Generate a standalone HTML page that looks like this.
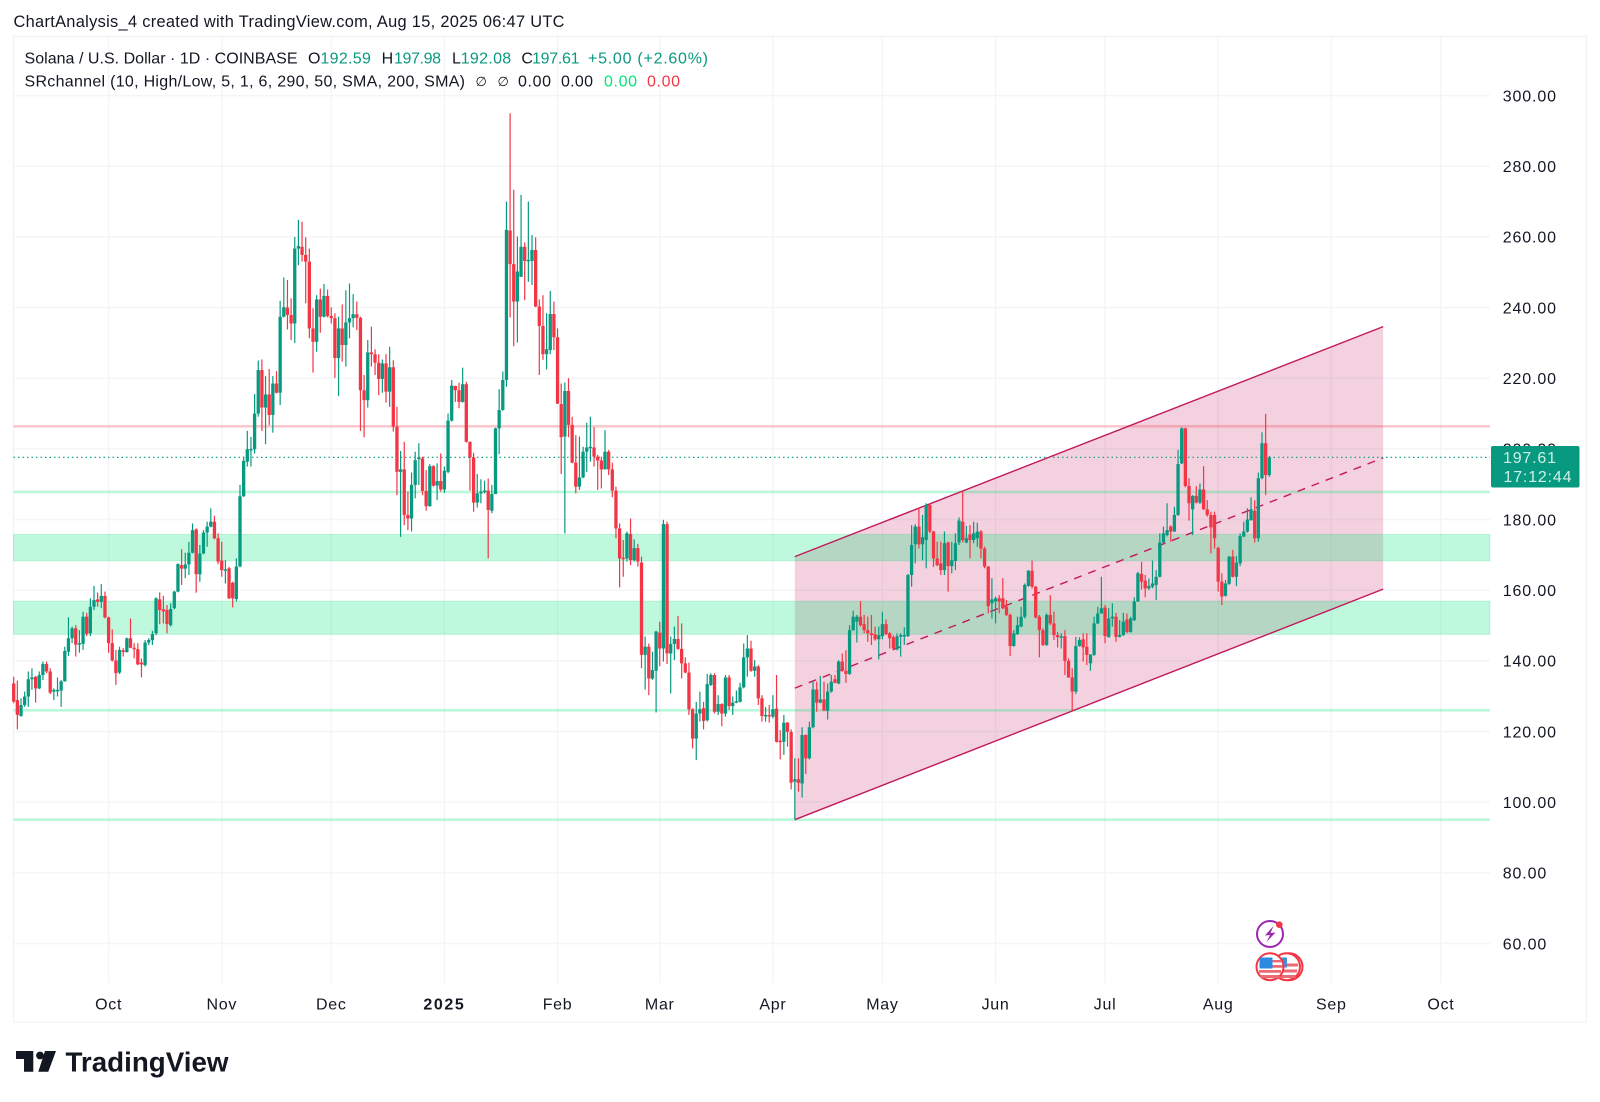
<!DOCTYPE html>
<html lang="en">
<head>
<meta charset="utf-8">
<title>SOL/USD Chart</title>
<style>
html,body{margin:0;padding:0;background:#fff;}
svg{display:block;font-family:"Liberation Sans",sans-serif;}
</style>
</head>
<body>
<svg id="chart" xmlns="http://www.w3.org/2000/svg" width="1600" height="1102" viewBox="0 0 1600 1102">
  <rect x="0" y="0" width="1600" height="1102" fill="#ffffff"/>
  <text x="13.5" y="27" font-size="16.4" fill="#131722" textLength="551" lengthAdjust="spacing">ChartAnalysis_4 created with TradingView.com, Aug 15, 2025 06:47 UTC</text>
  <rect x="13.5" y="36.5" width="1573" height="985.5" fill="none" stroke="#f3f4f7" stroke-width="1.5"/>
  <g id="grid"></g>
  <g id="channelFill"></g>
  <g id="levels"></g>
  <g id="channelLines"></g>
  <g id="lastLine"></g>
  <g id="candles"></g>
  <g id="yAxis"></g>
  <g id="xAxis"></g>

  <g>
    <rect x="1491" y="446" width="88.5" height="41.5" rx="2" fill="#089981"/>
    <text x="1503" y="463" font-size="16" fill="#cfefe8" textLength="53" lengthAdjust="spacing">197.61</text>
    <text x="1503.5" y="481.8" font-size="16" fill="#cfefe8" textLength="68" lengthAdjust="spacing">17:12:44</text>
  </g>

  <g font-size="16">
    <text x="24.5" y="63.5" fill="#131722" textLength="273" lengthAdjust="spacing">Solana / U.S. Dollar · 1D · COINBASE</text>
    <text x="308" y="63.5" fill="#131722">O</text>
    <text x="320.4" y="63.5" fill="#089981" textLength="50.5" lengthAdjust="spacing">192.59</text>
    <text x="381.6" y="63.5" fill="#131722">H</text>
    <text x="394" y="63.5" fill="#089981" textLength="47" lengthAdjust="spacing">197.98</text>
    <text x="452" y="63.5" fill="#131722">L</text>
    <text x="460.7" y="63.5" fill="#089981" textLength="50.5" lengthAdjust="spacing">192.08</text>
    <text x="521.4" y="63.5" fill="#131722">C</text>
    <text x="532" y="63.5" fill="#089981" textLength="47.5" lengthAdjust="spacing">197.61</text>
    <text x="588" y="63.5" fill="#089981" textLength="120" lengthAdjust="spacing">+5.00 (+2.60%)</text>
    <text x="24.5" y="86.5" fill="#131722" textLength="440.5" lengthAdjust="spacing">SRchannel (10, High/Low, 5, 1, 6, 290, 50, SMA, 200, SMA)</text>
    <text x="475.5" y="86" font-size="13" fill="#131722">∅</text>
    <text x="497.5" y="86" font-size="13" fill="#131722">∅</text>
    <text x="518" y="86.5" fill="#131722" textLength="33" lengthAdjust="spacing">0.00</text>
    <text x="561" y="86.5" fill="#131722" textLength="32" lengthAdjust="spacing">0.00</text>
    <text x="604" y="86.5" fill="#00e676" textLength="33" lengthAdjust="spacing">0.00</text>
    <text x="647" y="86.5" fill="#f23645" textLength="33" lengthAdjust="spacing">0.00</text>
  </g>

  <g>
    <circle cx="1270" cy="934" r="13" fill="#fff" stroke="#9c27b0" stroke-width="2"/>
    <path d="M1273.5 926 L1265 935.5 L1270 935 L1266.5 942 L1275.5 932.5 L1270.5 933 Z" fill="#9c27b0"/>
    <circle cx="1279.3" cy="924.7" r="3.3" fill="#f23645"/>
  </g>
  <g>
    <g>
      <circle cx="1289" cy="966.7" r="13.5" fill="#fff" stroke="#f23645" stroke-width="2"/>
      <circle cx="1286.5" cy="966.7" r="13.5" fill="#fff" stroke="#f23645" stroke-width="2"/>
      <path d="M1276 969.5 h21 v3 h-21z M1277.5 975 h18 v3 h-18z M1283 963.5 h15 v3 h-15z" fill="#ee6a72"/>
      <rect x="1279" y="957.5" width="8" height="10" fill="#3f8fdc"/>
    </g>
    <g>
      <circle cx="1270" cy="966.7" r="13.5" fill="#fff" stroke="#f23645" stroke-width="2"/>
      <path d="M1272 960 h9.5 v2.4 h-9.5z M1272 965 h10.5 v2.8 h-10.5z M1259 970 h22 v2.8 h-22z M1260.5 975 h19 v3.2 h-19z" fill="#ee6a72"/>
      <rect x="1259.5" y="957.5" width="13" height="11" fill="#2e8ae0"/>
    </g>
  </g>

  <g>
    <path d="M16 1051 H33.3 V1071.7 H24 V1059 H16 Z" fill="#131722"/>
    <circle cx="40" cy="1055.5" r="3.9" fill="#131722"/>
    <path d="M45 1051 H56 L48.3 1071.7 H38.3 Z" fill="#131722"/>
    <text x="65.5" y="1071.7" font-size="28" font-weight="bold" fill="#131722" textLength="163" lengthAdjust="spacingAndGlyphs">TradingView</text>
  </g>
</svg>

<script>
// ---------- chart data ----------
const opens = [
133.6,128.9,124.4,127.5,129.9,134.8,135.5,132.2,136,139.1,
137,131.3,131.4,131.6,134.2,142.6,146.4,149.2,144.7,144.8,
152.5,147.8,155.3,157.4,156.7,158.4,152.3,145,140.1,136.7,
143,142.5,146.4,143.7,143.3,139.5,138.8,145.2,145.9,147.8,
157.4,154.6,154.4,150.1,154.9,159.6,167.1,166.1,167.3,170.6,
177.2,164.5,170.4,176.3,178,179.4,174.7,168.4,165.5,166.2,
162.1,157.5,166.7,186.6,196.4,199.8,199.9,210,222.3,211.7,
215.4,209.6,218.5,215.9,237.4,240,237.9,235.5,256.7,257.2,
254.9,253,234.1,230.3,242.3,237.4,243.3,237.6,237,225.7,
234.1,229.4,235.8,237,238.1,237.1,216.6,213.8,227.3,226.8,
224.4,219.8,224.2,216.2,223.1,206.3,193.5,194.2,181.3,180.3,
189.8,197.1,197.3,188.1,183.8,195.1,189.6,190.9,188.5,193.5,
208,217.8,216.6,213.3,218.3,202,197.6,184.8,187.4,187.9,
188.2,182.5,187.2,205.8,211,219.5,261.8,252.3,241.7,248.7,
257.2,253.2,253.2,256.3,240.3,234.8,226.8,228,238.2,231.6,
212.7,203.5,216.4,206.8,196.1,189.3,191.9,199.2,200.3,200.4,
197.8,196.7,194.2,199.2,194.2,188.2,177.5,169.2,169,175.9,
168.5,171.9,167.8,141.7,144,135,137.2,148,143.5,178.7,
142.1,144.8,146.2,143.4,139.3,136.7,126.3,118,125.1,126.6,
123.2,133.2,136,125.6,127.8,125.1,135.3,127.2,128.2,128.4,
132.5,141,143.5,137.2,138.4,129.4,124.4,124.7,124.2,126.5,
117.4,117.1,122.5,119.9,105.8,106.5,105.3,119,112.4,121.2,
131.9,128.2,129.1,125.9,131.3,134.8,133.6,139.8,137.2,136.3,
148.7,151.1,152.5,150.4,148.7,147.8,147.5,146.1,147,150.4,
147.8,146.7,143.2,147,147,147,164.3,173,178,173,
174.2,184.1,176.6,169,167.6,165.7,173.5,166.8,168.3,173.5,
179.4,173.5,175.8,174.2,174.7,176.6,171.8,166.7,156.3,156.8,
157.7,157.7,155.3,153,144.2,147.6,149.7,152.5,161.2,165.5,
161,152.5,148.7,144.5,153,150.6,147.3,146.7,147,140,
135.3,131.3,144.2,146.1,144,139.3,141.7,150.6,153.4,155.1,
146.7,152,152.5,146.8,147.3,151.7,148.2,151.5,156.8,164.6,
162.7,160.5,161,161.5,163.8,173.5,175.6,178,176.6,181.3,
195.9,205.8,189.5,182.9,186.7,184.8,188.5,182.9,181.3,181.3,
172,162.4,158.4,161.8,169.5,163.8,167.6,175.2,176.6,179.8,
182.5,174.7,191.7,201.6,192.59];
const highs = [
135.5,134.4,129.4,131.3,137,137.9,135.7,137,139.8,139.8,
137.9,132.2,135.3,134.6,144,152.3,149.7,150.1,148.7,153.9,
153.6,157.7,161.2,159.3,161.7,159.6,152.5,148.9,143.1,144,
143.6,146.6,152,145,145,140.7,145.9,146.4,148.5,158,
159.4,158.4,155.8,156.3,159.8,167.6,171.6,170.6,173.7,178.9,
177.5,172.8,177,179.4,183.2,181.1,176.1,173.7,168.5,166.6,
162.4,169,189.8,197.8,205.1,203.4,215.5,225,225.3,220.6,
222.6,220.6,222,241.9,248.5,247.8,242.6,260,264.8,264.3,
259.9,256.7,239.8,243.5,245.4,246.7,245.1,240.1,238.4,237.4,
240.9,244.9,246.8,243.8,241.7,237.4,220.9,230.8,234.6,228.2,
226.8,225.3,226.8,228.9,225.1,211.9,199.4,202,187.9,193.3,
199.2,201.6,197.8,194,195.7,195.4,195.9,198.7,195,210,
219.5,217.9,218.7,223,219,202.1,198.9,192.9,191.4,191,
191.6,189.8,206,216.9,221.9,270,295,273.3,260.1,271.9,
258.4,270,260.5,259.9,242.3,243.5,238.4,244.7,241.7,234.1,
218.5,218.8,220,209.1,203.9,203.5,200.6,207.4,209.1,206.1,
198.3,197.8,205.3,199.7,196.1,189.3,178.9,174.2,176.6,180.3,
174.4,173.1,169.5,146.9,144.9,142.6,148.5,151.1,179.9,179.4,
146.9,149.7,152.7,150.6,141,139.5,126.6,128.4,131.3,128.4,
136.3,136.5,136.5,130.3,128,136,136,129.9,131.6,133.8,
144.9,147.3,145.7,140.2,138.8,130.3,126.9,127.5,130.3,136,
120.4,124.7,122.7,120.6,112.4,112.4,121.2,119.2,122.8,134.1,
134.1,135.7,134.1,133.6,136,136,140.2,142.1,143,150.1,
154.2,153,156.9,153,152.5,153,149.7,149.7,153.9,151.7,
148.2,147.3,147.8,147.8,149.5,164.6,178.4,178.7,183.2,181.3,
184.6,184.6,176.8,173.7,173.7,176.6,173.7,173.7,176.1,180.6,
187.9,178.2,178.4,179.4,179.1,177,172.3,166.8,163.4,158.2,
158.6,163.4,157.2,153.4,148.7,152.5,155.3,161.9,165.7,168.4,
161.2,153,149.2,153.4,158.6,153.9,148.2,147.8,148.7,140.7,
137.9,146.8,146.7,147.8,147.8,141.9,152.5,155.3,163.8,155.8,
154.9,156.3,153.6,151.5,153.6,153.4,152.5,158,165.2,168,
164.3,163.3,168.4,165.7,176.1,178,184.6,178.4,183.6,199.7,
206.1,206,191.7,186.9,189.5,190.2,195.1,185.5,182.2,182.2,
172.3,164.8,162.9,169.7,171.4,169.7,176.1,179.4,183.2,186.3,
185.5,193.3,204.7,209.9,197.98];
const lows = [
128,120.6,124.2,127,127,131.8,128.2,132,134.6,136.5,
130.6,128.9,129.9,127,134.1,141.4,145,141.2,142.3,143.1,
147,147,154.4,155.3,154.9,152,142.3,139.8,133.2,136.3,
141.2,142.3,143.6,140.7,138.8,135.3,138.4,144.5,144.5,147.3,
150.4,150.6,147.8,149.7,154.6,159.4,161.5,163.4,164.3,170.4,
159.3,162.4,170.2,172.3,177.8,174.4,167.4,163.8,161.9,157.5,
155.1,156.8,166.5,186.4,195,195,198.7,209.1,205.1,201.3,
206.7,204.6,215.7,212.4,237.2,233.8,230.8,230,252,253,
241.2,231.3,221.6,227.5,232.9,237.2,237.2,235.5,220.1,215,
224.7,223.3,231.3,234.4,233.6,205.1,203.3,211.7,223.3,220.9,
215.2,215.9,213.1,211.9,204.9,186.9,175.1,178.4,177,176.6,
186,189.8,186.9,182.5,183.6,189.3,185.5,187.9,187.6,193.1,
207.7,213.3,211.5,213.1,201.8,188.2,182.2,183.4,184.6,187.4,
169,181.8,187.2,198.5,210.8,217.6,237.2,229.1,230.1,248.7,
242.1,247.3,246.4,240.1,220.9,225.2,222.5,226.8,228,212.7,
192.9,176.1,203.3,195.9,187.4,188.4,191.7,193.5,196.4,195,
188.4,188.8,194.2,192.6,186.3,174.7,160.8,163.8,168.1,167.1,
168.1,166.7,137.9,131.9,130.3,134.6,125.4,138.5,139.8,139.1,
130.8,140.2,143.1,135,136.5,124.7,115.2,111.9,122.8,120.6,
122.8,132.9,125.1,124.7,121.5,124.2,126.1,124.7,128,128.2,
132.2,135.5,136.9,135.5,127.5,122.8,122.8,122.5,123.7,116.9,
112.1,113.4,115.7,103.6,95.1,103,101.3,108,112.1,120.9,
125.6,128,125.8,123.4,131,133.6,133.4,136.9,133.8,136,
148.5,145.2,149.7,147.8,145.4,144.5,145.7,140.4,146.1,147.3,
143.5,143,143,141.2,144.5,146.8,161,167.6,171.8,168.5,
166.2,176.1,166.6,166.8,164.3,164.3,159.6,164.8,165.7,172.8,
173.5,173.3,169,173.3,172.3,169,166.2,153.4,152,150.6,
153.4,154.6,152.7,141.4,144,147.3,149.5,152,161,160.5,
152,141,144.2,144.2,150.1,145.9,143.8,143.5,136,135.2,
125.9,130.6,144,139.8,138.8,137.2,141.4,150.4,153.4,145,
146.6,149.7,145.4,146.6,147,147.8,148,151.3,156.7,160.2,
158,160,160.5,157.2,163.6,173.3,175.2,173.7,176.5,181,
195.7,189.1,179.7,175.6,184.6,184.4,182.7,180.8,170.4,171.8,
159.6,155.8,158.2,161.5,163.6,161.2,166.8,175,176.3,179.7,
173.5,173.7,191.4,186.9,192.08];
const closes = [
128.5,124.7,127.5,129.9,134.8,135.3,132.2,136,139.1,137,
131,131.8,131.8,134.2,142.8,146.4,149.2,144.6,145,152.5,
147.6,155.3,157.2,156.7,158.4,152.3,145,140.1,136.5,143.1,
142.5,146.4,143.7,143.3,139,139,145.2,145.9,147.6,157.7,
154.4,154,150.4,154.7,159.6,167.4,166.1,167.3,170.6,177,
164.5,170.4,176.3,178,179.4,174.7,168.1,165.7,165.9,157.7,
157.7,166.7,186.6,196.6,199.9,200,210,222.3,211.7,215.4,
209.6,218.5,215.9,237.4,240.1,237.9,235.5,256.7,257.4,254.9,
253,234.1,230.3,242.3,237.4,243.3,237.6,237,225.7,234.1,
229.4,235.8,237,238.1,237.1,216.6,213.8,227.3,226.8,224.4,
219.8,224.2,216.2,223.1,206.3,193.5,194.2,181.3,180.3,189.8,
196.8,197.6,188.1,183.8,195.1,189.6,190.9,188.5,193.8,208,
217.9,216.6,213.3,218.3,202,197.6,184.8,187.4,187.9,188.2,
182.7,187.2,205.8,211,219.5,262,252.3,241.7,250.2,257.2,
253.2,253.5,256.3,240.3,234.8,226.8,228.2,238.2,231.6,212.8,
203.3,216.4,206.8,196.1,189.3,191.9,199.2,200.4,200.6,197.8,
196.7,194.2,199.2,194.2,188.2,177.5,169,169,176.1,168.5,
171.9,168.1,141.7,144,135,137.4,148.3,143.5,178.7,142.1,
144.8,146.2,143.4,139.3,136.7,126.3,118,125.1,126.3,123,
133.4,136,125.6,127.8,125.1,135.3,127.2,128.2,128.6,132.5,
141,143.5,137.2,138.4,129.4,124.4,124.7,124.4,126.3,117.1,
117.1,122.5,119.9,105.5,106.5,105.5,119,112.4,121.2,131.9,
128.2,129.1,125.9,131.3,134.1,133.8,139.8,137.2,136.3,148.7,
152.5,152.5,150.1,148.7,147.8,147.3,146.1,147.3,150.4,147.6,
146.4,143.5,147,147.3,147.3,164.3,172.8,178,173,175,
184.1,176.6,169,167.1,165.7,173.3,166.8,168.5,173.3,179.7,
174.2,174.7,174.2,176.1,176.6,171.8,166.7,155.5,157.4,157.7,
156.8,154.9,153,144.2,147.8,150.1,152.5,161.5,165.5,161,
152.3,148.7,144.5,153,150.6,147.3,146.7,147,140,135.3,
131.3,144.2,145.9,143.8,141.7,141.8,150.6,153.4,154.9,147,
152,152.5,146.8,147.3,151.1,148.2,152,156.8,164.8,162.4,
160.5,161.2,161.9,163.8,173.5,176.1,177,176.6,181.3,195.7,
205.8,189.5,184.6,186.7,184.8,188.5,182.9,181.3,177.8,174.7,
162.4,158.2,161.9,169.5,163.8,167.8,175.3,176.6,180,182.9,
174.7,191.7,201.6,192.6,197.61];

const priceTicks = [60,80,100,120,140,160,180,200,220,240,260,280,300];
const timeTickLabels = ['Oct','Nov','Dec','2025','Feb','Mar','Apr','May','Jun','Jul','Aug','Sep','Oct'];
const timeTickBars = [26,57,87,118,149,177,208,238,269,299,330,361,391];
const lastPrice = 197.61;
const resistanceLevels = [206.4];
const supportLevels = [187.8,126,95.05];
const zoneLows = [168.3,147.5];
const zoneHighs = [175.8,156.9];
const channelBars = [214,375.2];
const channelUpper = [169.5,234.6];
const channelLower = [95.05,160.3];

// ---------- axis functions ----------
const NS = 'http://www.w3.org/2000/svg';
const plotLeft = 13.5, plotRight = 1490, plotTop = 36.5, plotBottom = 983;
function xOf(bar){ return 108.6 + 3.65 * (bar - 26); }
function yOf(price){ return 943.5 - (price - 60) * 3.533; }
function mk(parent, tag, attrs){
  const el = document.createElementNS(NS, tag);
  for (const k in attrs) el.setAttribute(k, attrs[k]);
  parent.appendChild(el);
  return el;
}

// ---------- grid ----------
const gridG = document.getElementById('grid');
priceTicks.forEach(function(p){
  const l = mk(gridG, 'line', {x1:plotLeft, x2:plotRight, y1:yOf(p), y2:yOf(p), stroke:'#f4f5f8', 'stroke-width':1.5});
  
  
});
timeTickBars.forEach(function(b){
  const l = mk(gridG, 'line', {x1:xOf(b), x2:xOf(b), y1:plotTop, y2:plotBottom, stroke:'#f4f5f8', 'stroke-width':1.5});
  
  
});

// ---------- channel fill ----------
const fillG = document.getElementById('channelFill');
const xa = xOf(channelBars[0]), xb = xOf(channelBars[1]);
const channelPoly = mk(fillG, 'polygon', {
  points: xa+','+yOf(channelUpper[0])+' '+xb+','+yOf(channelUpper[1])+' '+xb+','+yOf(channelLower[1])+' '+xa+','+yOf(channelLower[0]),
  fill:'#c2185b', 'fill-opacity':0.2
});



// ---------- levels and zones ----------
const levelG = document.getElementById('levels');
zoneLows.forEach(function(lo, i){
  const top = yOf(zoneHighs[i]), bot = yOf(lo);
  const r = mk(levelG, 'rect', {x:plotLeft, y:top, width:plotRight-plotLeft, height:bot-top, fill:'#00e676', 'fill-opacity':0.25, stroke:'#00c878', 'stroke-opacity':0.18, 'stroke-width':1});
  
  
});
supportLevels.forEach(function(p){
  const l = mk(levelG, 'line', {x1:plotLeft, x2:plotRight, y1:yOf(p), y2:yOf(p), stroke:'#00e676', 'stroke-opacity':0.27, 'stroke-width':2.6});
  
  
});
resistanceLevels.forEach(function(p){
  const l = mk(levelG, 'line', {x1:plotLeft, x2:plotRight, y1:yOf(p), y2:yOf(p), stroke:'#f23645', 'stroke-opacity':0.27, 'stroke-width':2.6});
  
  
});

// ---------- channel lines ----------
const chanG = document.getElementById('channelLines');
const upperLine = mk(chanG, 'line', {x1:xa, y1:yOf(channelUpper[0]), x2:xb, y2:yOf(channelUpper[1]), stroke:'#c2185b', 'stroke-width':1.4});


const lowerLine = mk(chanG, 'line', {x1:xa, y1:yOf(channelLower[0]), x2:xb, y2:yOf(channelLower[1]), stroke:'#c2185b', 'stroke-width':1.4});


const midLine = mk(chanG, 'line', {x1:xa, y1:yOf((channelUpper[0]+channelLower[0])/2), x2:xb, y2:yOf((channelUpper[1]+channelLower[1])/2), stroke:'#c2185b', 'stroke-width':1.4, 'stroke-dasharray':'8 7'});



// ---------- last price line ----------
const lastG = document.getElementById('lastLine');
const lastPriceLine = mk(lastG, 'line', {x1:plotLeft, x2:plotRight, y1:yOf(lastPrice), y2:yOf(lastPrice), stroke:'#089981', 'stroke-width':1.2, 'stroke-dasharray':'1.5 3'});



// ---------- candles ----------
const candleG = document.getElementById('candles');
closes.forEach(function(c, i){
  const o = opens[i], up = c >= o, color = up ? '#089981' : '#f23645';
  const x = xOf(i);
  const wick = mk(candleG, 'line', {x1:x, x2:x, y1:yOf(highs[i]), y2:yOf(lows[i]), stroke:color, 'stroke-width':1.2});
  
  
  const top = yOf(Math.max(o, c)), bot = yOf(Math.min(o, c));
  const body = mk(candleG, 'rect', {x:x-1.65, y:top, width:3.3, height:Math.max(bot-top, 1.5), fill:color});
  
  
});

// ---------- axes ----------
const yG = document.getElementById('yAxis');
priceTicks.forEach(function(p){
  const t = mk(yG, 'text', {x:1502.8, y:yOf(p)+5.8, 'font-size':16, fill:'#131722', 'letter-spacing':0.85});
  
  
  t.textContent = p.toFixed(2);
});
const xG = document.getElementById('xAxis');
timeTickLabels.forEach(function(label, i){
  const isYear = label === '2025';
  const t = mk(xG, 'text', {x:xOf(timeTickBars[i]), y:1009.5, 'font-size':16, 'text-anchor':'middle', fill:'#131722', 'letter-spacing':isYear ? 1.6 : 0.7, 'font-weight':isYear ? 'bold' : 'normal'});
  
  
  t.textContent = label;
});
</script>
</body>
</html>
